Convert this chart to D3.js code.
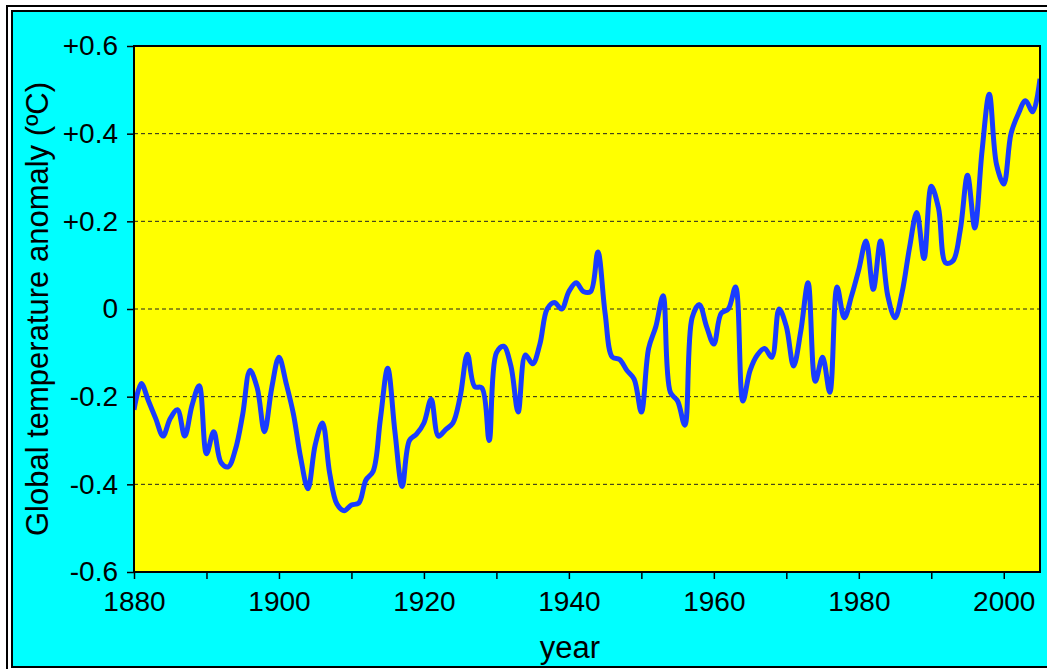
<!DOCTYPE html>
<html>
<head>
<meta charset="utf-8">
<script src="https://cdn.jsdelivr.net/npm/d3@7"></script>
<style>
  body { margin: 0; background: #fff; }
  text { font-family: "Liberation Sans", Arial, sans-serif; fill: #000; }
</style>
</head>
<body>
<script>
// annual smoothed global temperature anomaly
var years = d3.range(1880, 2006);
var anomaly = [
  -0.23, -0.17, -0.21, -0.25, -0.29, -0.25, -0.23, -0.29, -0.22, -0.175,  // 1880s
  -0.33, -0.28, -0.35, -0.36, -0.32, -0.24, -0.14, -0.18, -0.28, -0.18,   // 1890s
  -0.11, -0.17, -0.24, -0.34, -0.41, -0.31, -0.26, -0.375, -0.445, -0.46, // 1900s
  -0.447, -0.443, -0.39, -0.37, -0.25, -0.135, -0.28, -0.405, -0.30, -0.285, // 1910s
  -0.26, -0.206, -0.29, -0.275, -0.26, -0.20, -0.103, -0.177, -0.18, -0.30, // 1920s
  -0.10, -0.085, -0.13, -0.235, -0.105, -0.125, -0.08, 0.0, 0.015, 0.0,   // 1930s
  0.04, 0.06, 0.04, 0.04, 0.13, -0.01, -0.11, -0.115, -0.14, -0.16,       // 1940s
  -0.235, -0.09, -0.04, 0.03, -0.19, -0.21, -0.265, -0.02, 0.01, -0.04,   // 1950s
  -0.08, -0.01, 0.0, 0.05, -0.21, -0.14, -0.105, -0.09, -0.11, 0.0,       // 1960s
  -0.04, -0.13, -0.05, 0.06, -0.165, -0.11, -0.19, 0.05, -0.02, 0.03,     // 1970s
  0.09, 0.155, 0.045, 0.155, 0.03, -0.02, 0.04, 0.14, 0.22, 0.115,        // 1980s
  0.28, 0.23, 0.105, 0.11, 0.18, 0.305, 0.185, 0.36, 0.49, 0.33,          // 1990s
  0.285, 0.40, 0.445, 0.475, 0.45, 0.525                                  // 2000s
];

var yTicks = [0.6, 0.4, 0.2, 0, -0.2, -0.4, -0.6];
var yTickLabels = ["+0.6", "+0.4", "+0.2", "0", "-0.2", "-0.4", "-0.6"];
var gridValues = [0.4, 0.2, 0, -0.2, -0.4];
var xTicks = d3.range(1880, 2001, 10);
var xTickLabels = ["1880", "", "1900", "", "1920", "", "1940", "", "1960", "", "1980", "", "2000"];

var width = 1047, height = 669;
var pLeft = 134, pRight = 1040, pTop = 46, pBottom = 572;

var svg = d3.select('body').append('svg').attr('width', width).attr('height', height);

// double frame
svg.append('rect').attr('x', 7).attr('y', 6).attr('width', 1080).attr('height', 700)
    .attr('fill', 'none').attr('stroke', '#000').attr('stroke-width', 2);
svg.append('rect').attr('x', 12).attr('y', 11).attr('width', 1080).attr('height', 656)
    .attr('fill', '#00ffff').attr('stroke', '#000').attr('stroke-width', 2);

var x = d3.scaleLinear().domain([1880, 2005]).range([pLeft, pRight]);
var y = d3.scaleLinear().domain([-0.6, 0.6]).range([pBottom, pTop]);

// plot area
svg.append('rect').attr('x', pLeft).attr('y', pTop)
    .attr('width', pRight - pLeft).attr('height', pBottom - pTop)
    .attr('fill', '#ffff00');

// dashed grid
svg.append('g').selectAll('line').data(gridValues).enter().append('line')
    .attr('x1', pLeft).attr('x2', pRight)
    .attr('y1', function (d) { return y(d); })
    .attr('y2', function (d) { return y(d); })
    .attr('stroke', '#222').attr('stroke-width', 1)
    .attr('stroke-dasharray', '4,3');

// axes
var yAxis = svg.append('g').attr('transform', 'translate(' + pLeft + ',0)')
    .call(d3.axisLeft(y).tickValues(yTicks).tickSize(7).tickPadding(9)
        .tickFormat(function (d, i) { return yTickLabels[i]; }));
var xAxis = svg.append('g').attr('transform', 'translate(0,' + pBottom + ')')
    .call(d3.axisBottom(x).tickValues(xTicks).tickSize(7).tickPadding(12)
        .tickFormat(function (d, i) { return xTickLabels[i]; }));
[yAxis, xAxis].forEach(function (g) {
    g.select('.domain').remove();
    g.selectAll('line').attr('stroke', '#000').attr('stroke-width', 1.5);
    g.selectAll('text').attr('font-family', '"Liberation Sans", Arial, sans-serif')
        .attr('font-size', 28).attr('fill', '#000');
});

// data line
svg.append('clipPath').attr('id', 'clip').append('rect')
    .attr('x', pLeft).attr('y', pTop).attr('width', pRight - pLeft).attr('height', pBottom - pTop);

var line = d3.line()
    .x(function (d, i) { return x(years[i]); })
    .y(function (d) { return y(d); })
    .curve(d3.curveCatmullRom.alpha(0.5));

svg.append('path').datum(anomaly)
    .attr('clip-path', 'url(#clip)')
    .attr('d', line)
    .attr('fill', 'none')
    .attr('stroke', '#1a3cff')
    .attr('stroke-width', 5)
    .attr('stroke-linejoin', 'round');

// plot border
svg.append('rect').attr('x', pLeft).attr('y', pTop)
    .attr('width', pRight - pLeft).attr('height', pBottom - pTop)
    .attr('fill', 'none').attr('stroke', '#000').attr('stroke-width', 2);

// axis titles
svg.append('text')
    .attr('x', 570).attr('y', 658)
    .attr('text-anchor', 'middle').attr('font-size', 31)
    .text('year');

svg.append('text')
    .attr('transform', 'translate(48,' + (pTop + pBottom) / 2 + ') rotate(-90)')
    .attr('text-anchor', 'middle').attr('font-size', 31)
    .text('Global temperature anomaly (ºC)');
</script>
</body>
</html>
